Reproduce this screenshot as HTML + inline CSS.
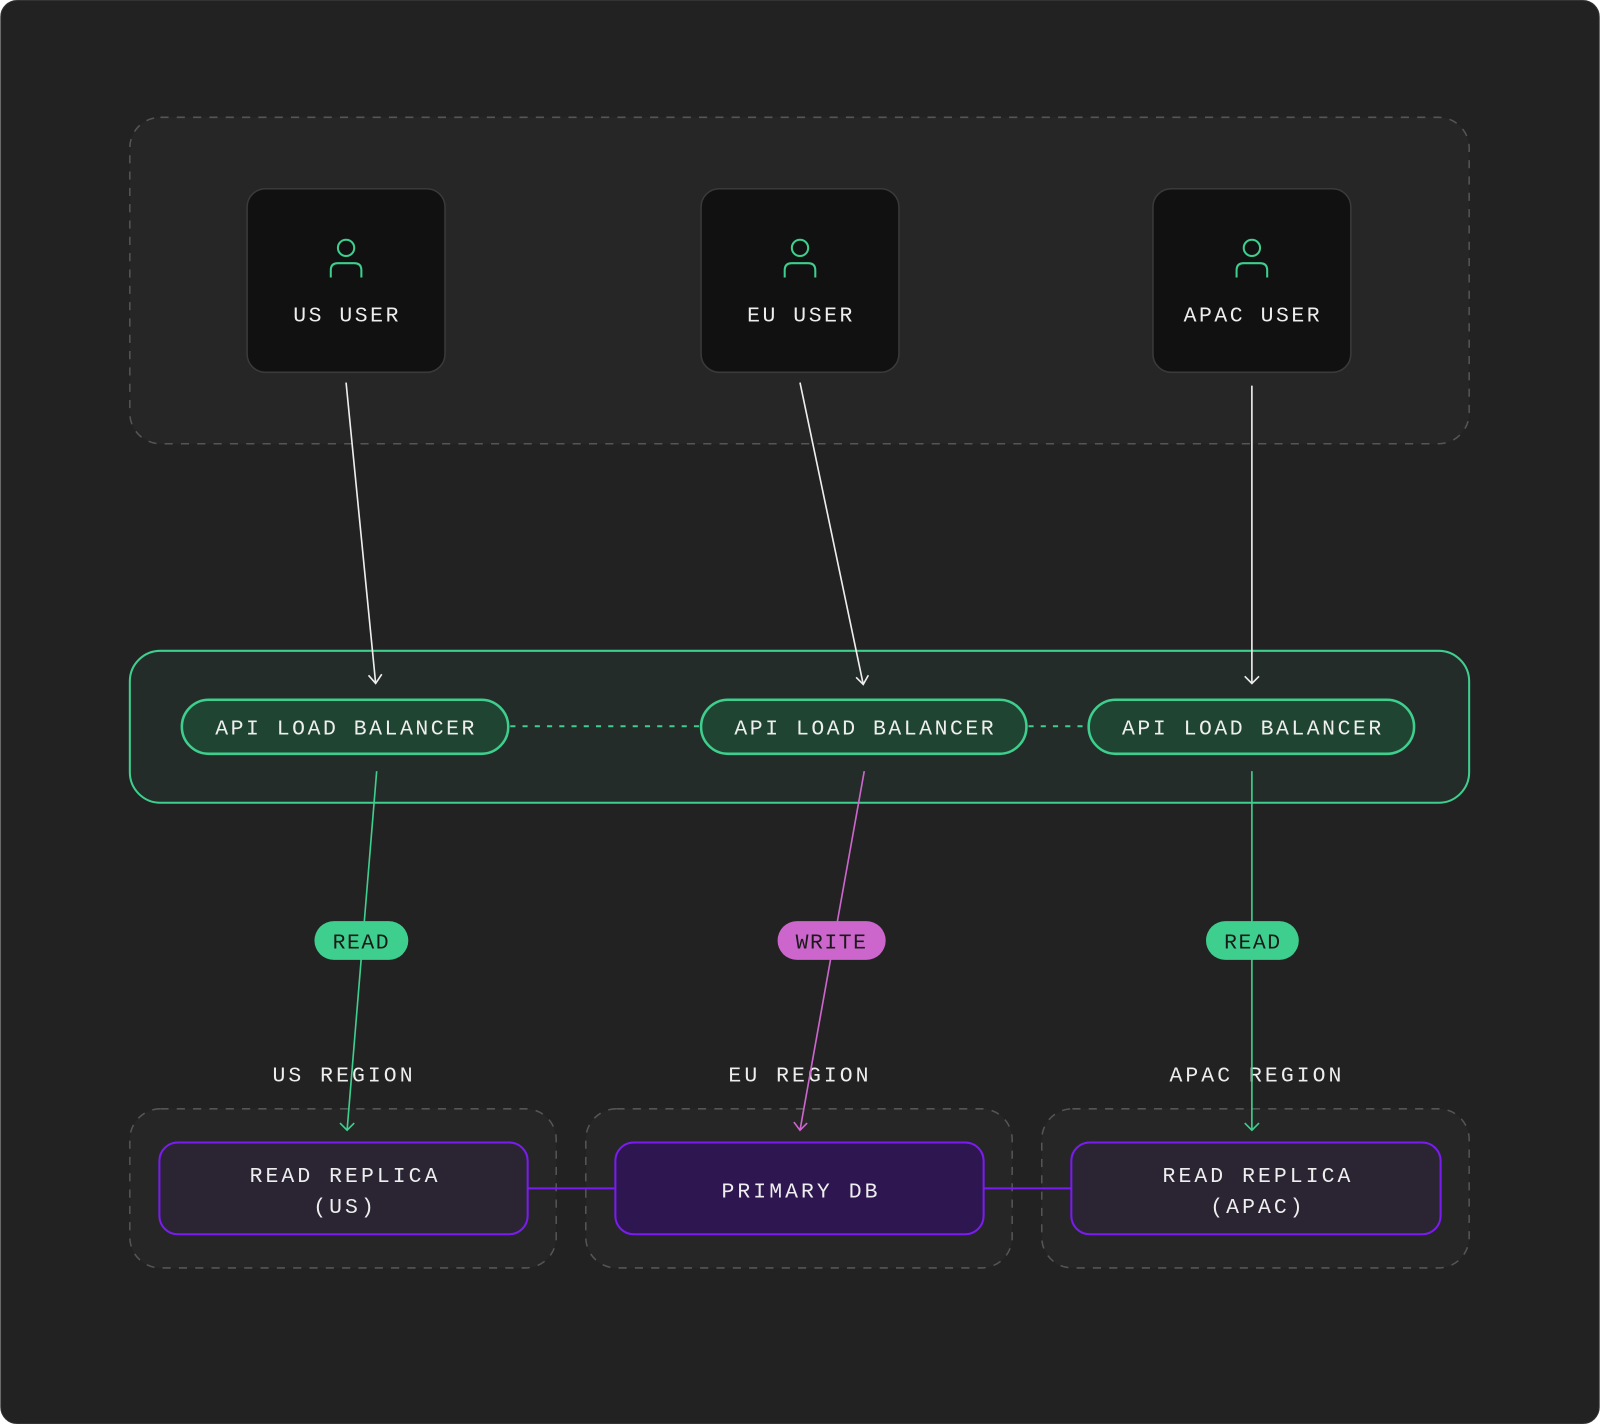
<!DOCTYPE html>
<html><head><meta charset="utf-8"><style>
html,body{margin:0;padding:0;background:#fff;}
svg{display:block;}
text{font-family:"Liberation Mono","DejaVu Sans Mono",monospace;}
</style></head><body>
<svg width="1600" height="1424" viewBox="0 0 1568 1396" xmlns="http://www.w3.org/2000/svg">
<rect x="0.5" y="0.5" width="1567" height="1395" rx="16" fill="#222222" stroke="#333"/>
<rect x="127" y="115" width="1313" height="320" rx="30" fill="#262626" stroke="#555" stroke-width="1.5" stroke-dasharray="8 8"/>
<g fill="#111111" stroke="#3a3a3a" stroke-width="1.5">
<rect x="242" y="185" width="194" height="180" rx="18"/>
<rect x="687" y="185" width="194" height="180" rx="18"/>
<rect x="1130" y="185" width="194" height="180" rx="18"/>
</g>
<g fill="none" stroke="#3ecf8e" stroke-width="2">
<circle cx="339" cy="243" r="8"/><path d="M324 272 V265 Q324 258 331 258 H347 Q354 258 354 265 V272"/>
<circle cx="784" cy="243" r="8"/><path d="M769 272 V265 Q769 258 776 258 H792 Q799 258 799 265 V272"/>
<circle cx="1227" cy="243" r="8"/><path d="M1212 272 V265 Q1212 258 1219 258 H1235 Q1242 258 1242 265 V272"/>
</g>
<g fill="#eeeeee" font-size="21" text-anchor="middle" letter-spacing="2.5">
<text x="340" y="315">US USER</text>
<text x="785" y="315">EU USER</text>
<text x="1228" y="315">APAC USER</text>
</g>
<rect x="127" y="638" width="1313" height="149" rx="30" fill="#232c28" stroke="#3ecf8e" stroke-width="2"/>
<g stroke="#3ecf8e" stroke-width="2" stroke-dasharray="5 7">
<line x1="500" y1="712" x2="686" y2="712"/>
<line x1="1008" y1="712" x2="1066" y2="712"/>
</g>
<g fill="#1f4532" stroke="#3ecf8e" stroke-width="2.5">
<rect x="178" y="686" width="320" height="53" rx="26.5"/>
<rect x="687" y="686" width="319" height="53" rx="26.5"/>
<rect x="1067" y="686" width="319" height="53" rx="26.5"/>
</g>
<g fill="#eeeeee" font-size="21" text-anchor="middle" letter-spacing="2.5">
<text x="339" y="720">API LOAD BALANCER</text>
<text x="848" y="720">API LOAD BALANCER</text>
<text x="1228" y="720">API LOAD BALANCER</text>
</g>
<g stroke="#eeeeee" stroke-width="1.6" fill="none">
<line x1="339" y1="375" x2="368" y2="670"/><path d="M361 662 L368 670 L374 661"/>
<line x1="784" y1="375" x2="846" y2="671"/><path d="M839 664 L846 671 L851 662"/>
<line x1="1227" y1="378" x2="1227" y2="670"/><path d="M1220 663 L1227 670 L1234 663"/>
</g>
<g fill="#eeeeee" font-size="21" text-anchor="middle" letter-spacing="3">
<text x="337" y="1060">US REGION</text>
<text x="784" y="1060">EU REGION</text>
<text x="1232" y="1060">APAC REGION</text>
</g>
<g fill="#262626" stroke="#555" stroke-width="1.5" stroke-dasharray="8 8">
<rect x="127" y="1087" width="418" height="156" rx="30"/>
<rect x="574" y="1087" width="418" height="156" rx="30"/>
<rect x="1021" y="1087" width="419" height="156" rx="30"/>
</g>
<g stroke="#7a1cf0" stroke-width="2">
<line x1="517" y1="1165" x2="602" y2="1165"/>
<line x1="964" y1="1165" x2="1050" y2="1165"/>
<rect x="156" y="1120" width="361" height="90" rx="18" fill="#2a2433"/>
<rect x="603" y="1120" width="361" height="90" rx="18" fill="#2e1650"/>
<rect x="1050" y="1120" width="362" height="90" rx="18" fill="#2a2433"/>
</g>
<g fill="#eeeeee" font-size="21" text-anchor="middle" letter-spacing="3">
<text x="338" y="1159">READ REPLICA</text>
<text x="338" y="1189">(US)</text>
<text x="785" y="1174">PRIMARY DB</text>
<text x="1233" y="1159">READ REPLICA</text>
<text x="1233" y="1189">(APAC)</text>
</g>
<g fill="none" stroke-width="1.6">
<line x1="369" y1="756" x2="340" y2="1108" stroke="#3ecf8e"/><path d="M333 1101 L340 1108 L347 1101" stroke="#3ecf8e"/>
<line x1="847" y1="756" x2="784" y2="1108" stroke="#cc66cc"/><path d="M778 1100 L784 1108 L791 1101" stroke="#cc66cc"/>
<line x1="1227" y1="756" x2="1227" y2="1108" stroke="#3ecf8e"/><path d="M1220 1101 L1227 1108 L1234 1101" stroke="#3ecf8e"/>
</g>
<rect x="308" y="903" width="92" height="38" rx="19" fill="#3ecf8e"/>
<rect x="762" y="903" width="106" height="38" rx="19" fill="#cc66cc"/>
<rect x="1182" y="903" width="91" height="38" rx="19" fill="#3ecf8e"/>
<g fill="#1a1a1a" font-size="21" text-anchor="middle" letter-spacing="1.5">
<text x="354" y="930">READ</text>
<text x="815" y="930">WRITE</text>
<text x="1228" y="930">READ</text>
</g>
</svg>
</body></html>
